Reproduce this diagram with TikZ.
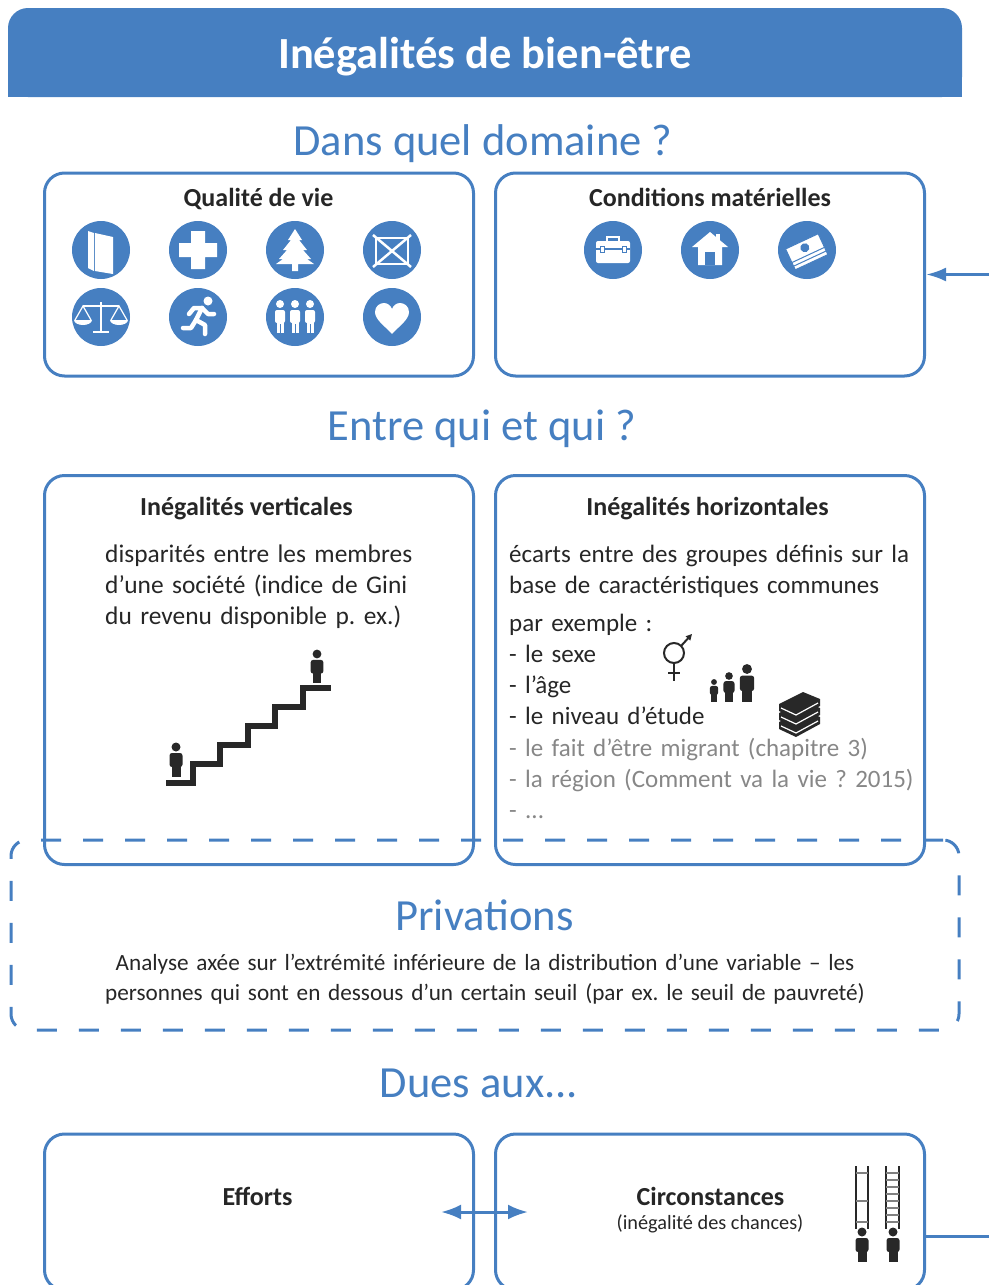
\documentclass[tikz,border=0pt]{standalone}
\usepackage{fontspec}
\setmainfont{Carlito}
\usetikzlibrary{arrows.meta,positioning}
\frenchspacing

\definecolor{mainblue}{RGB}{70,127,193}
\definecolor{textdark}{RGB}{38,38,38}
\definecolor{itemgray}{RGB}{135,135,135}
\definecolor{figdark}{RGB}{40,40,40}

% little standing person, head centre at (#1,#2), scaled by #3
\newcommand{\silhouette}[3]{%
  \begin{scope}[shift={(#1,#2)},scale=#3]
    \fill[figdark] (0,0) circle (4.5pt);
    \fill[figdark,rounded corners=2.5pt] (-6.5,6) rectangle (6.5,20);
    \fill[figdark] (-4.5,16) rectangle (4.5,30);
  \end{scope}}

\begin{document}
\begin{tikzpicture}[
    x=1pt, y=-1pt,
    every node/.style={text=textdark, inner sep=0pt},
    titlebar/.style={fill=mainblue, rounded corners=20pt, minimum width=954pt, minimum height=89pt},
    heading/.style={text=mainblue, anchor=base, font=\fontsize{44.5}{50}\selectfont},
    box/.style={draw=mainblue, line width=3pt, rounded corners=20pt, minimum width=429pt},
    dashbox/.style={draw=mainblue, line width=3pt, rounded corners=16pt, dash pattern=on 20pt off 22pt, minimum width=948pt, minimum height=190pt},
    boxtitle/.style={anchor=base, font=\bfseries\fontsize{26}{31.5}\selectfont},
    body/.style={anchor=base west, align=left, text width=#1, font=\fontsize{25.4}{31.4}\selectfont},
    icon/.style={circle, fill=mainblue, minimum size=58pt},
    link/.style={draw=mainblue, line width=3pt},
    arrow/.style={link, -{Latex[length=20pt,width=14pt]}}
  ]
  \useasboundingbox (0,0) rectangle (988,1285);

  % title
  \fill[mainblue] (8,52) rectangle (962,97);
  \node[titlebar] (title) at (485,52.5) {};
  \node[anchor=base, text=white, font=\bfseries\fontsize{44.5}{50}\selectfont] (titletext) at (485,68) {Inégalités de bien-être};

  % what
  \node[heading] (what) at (483,155) {Dans quel domaine ?};
  \node[box, minimum height=203pt] (qual) at (259,274.5) {};
  \node[box, minimum height=203pt] (cond) at (710,274.5) {};
  \node[boxtitle] at (258.5,206) {Qualité de vie};
  \node[boxtitle] at (710,206) {Conditions matérielles};

  \node[icon] (educ) at (101,250) {};
  \node[icon] (health) at (198,250) {};
  \node[icon] (envir) at (295,250) {};
  \node[icon] (balance) at (392,250) {};
  \node[icon] (civic) at (101,317) {};
  \node[icon] (secur) at (198,317) {};
  \node[icon] (social) at (295,317) {};
  \node[icon] (wellb) at (392,317) {};
  \node[icon] (jobs) at (613,250) {};
  \node[icon] (housing) at (710,250) {};
  \node[icon] (income) at (807,250) {};

  \begin{scope}[shift={(educ.center)}]
    \fill[white] (-13,-19) -- (-7,-17) -- (-7,21) -- (-13,18) -- cycle;
    \fill[white] (-6,-17) -- (12,-13) -- (12,24) -- (-6,21) -- cycle;
  \end{scope}
  \begin{scope}[shift={(health.center)}]
    \fill[white] (-7,-19) rectangle (7,19) (-19,-7) rectangle (19,7);
  \end{scope}
  \begin{scope}[shift={(envir.center)}]
    \fill[white] (0,-21) -- (-7,-10) -- (-4,-10) -- (-12,0) -- (-8,0) -- (-16,9) -- (-12,9) -- (-19,14)
      -- (-3,14) -- (-3,21) -- (3,21) -- (3,14) -- (19,14) -- (12,9) -- (16,9) -- (8,0) -- (12,0)
      -- (4,-10) -- (7,-10) -- cycle;
  \end{scope}
  \begin{scope}[shift={(balance.center)}, white, line width=2.5pt]
    \draw (-16,-12) rectangle (16,14);
    \draw (-19,-15) -- (19,17) (19,-15) -- (-19,17);
  \end{scope}
  \begin{scope}[shift={(civic.center)}, white]
    \draw[line width=2.5pt] (-18,-11) -- (18,-11) (0,-15) -- (0,14) (-8,15) -- (8,15);
    \draw[line width=1.2pt] (-26,3) -- (-18,-11) -- (-10,3) (10,3) -- (18,-11) -- (26,3);
    \fill (-27,3) -- (-9,3) arc[start angle=0, end angle=-180, x radius=9pt, y radius=5pt] -- cycle;
    \fill (9,3) -- (27,3) arc[start angle=0, end angle=-180, x radius=9pt, y radius=5pt] -- cycle;
  \end{scope}
  \begin{scope}[shift={(secur.center)}, white, line width=4.5pt, line cap=round, line join=round]
    \fill (10,-16) circle (4.5pt);
    \draw (4,-9) -- (-2,3);
    \draw (4,-9) -- (10,-3) -- (16,-3);
    \draw (4,-9) -- (-4,-9) -- (-9,-3);
    \draw (-2,3) -- (7,8) -- (7,17);
    \draw (-2,3) -- (-7,11) -- (-15,11);
  \end{scope}
  \begin{scope}[shift={(social.center)}]
    \foreach \dx in {-15,0,15} {
      \fill[white] (\dx,-13) circle (4pt);
      \fill[white, rounded corners=2pt] (\dx-5,-7) rectangle (\dx+5,6);
      \fill[white] (\dx-3.5,3) rectangle (\dx+3.5,16);
      \draw[mainblue, line width=1pt] (\dx,7) -- (\dx,16);
    }
  \end{scope}
  \begin{scope}[shift={(wellb.center)}]
    \fill[white] (0,17) .. controls (-6,10) and (-17,3) .. (-17,-5)
      .. controls (-17,-11) and (-12,-14) .. (-8,-14)
      .. controls (-4,-14) and (-1,-11) .. (0,-8)
      .. controls (1,-11) and (4,-14) .. (8,-14)
      .. controls (12,-14) and (17,-11) .. (17,-5)
      .. controls (17,3) and (6,10) .. (0,17);
  \end{scope}
  \begin{scope}[shift={(jobs.center)}]
    \draw[white, line width=2.5pt] (-6,-8) -- (-6,-13) -- (6,-13) -- (6,-8);
    \fill[white, rounded corners=2pt] (-17,-9) rectangle (17,13);
    \draw[mainblue, line width=1.5pt] (-17,-1) -- (17,-1);
    \filldraw[fill=white, draw=mainblue, line width=1pt] (-13,-4) rectangle (-9,2) (9,-4) rectangle (13,2);
  \end{scope}
  \begin{scope}[shift={(housing.center)}]
    \fill[white] (6,-16) rectangle (10,-8);
    \fill[white] (0,-18) -- (-18,-3) -- (-12,-3) -- (-12,15) -- (12,15) -- (12,-3) -- (18,-3) -- cycle;
    \fill[mainblue] (-5,2) rectangle (5,15);
  \end{scope}
  \begin{scope}[shift={(income.center)}, rotate=25]
    \foreach \k in {2,1,0}
      \filldraw[fill=white, draw=mainblue, line width=1pt] (-19,-10+4*\k) rectangle (17,5+4*\k);
    \fill[mainblue] (-1,-3) circle (4.5pt);
  \end{scope}

  % between whom
  \node[heading] (who) at (482,440) {Entre qui et qui ?};
  \node[dashbox] (privbox) at (485,935) {};
  \node[box, minimum height=389pt] (vert) at (259,670) {};
  \node[box, minimum height=389pt] (horiz) at (710,670) {};
  \node[boxtitle] at (246.5,515) {Inégalités verticales};
  \node[boxtitle] at (707.5,515) {Inégalités horizontales};

  \node[body=360pt] (verttext) at (105,562) {disparités entre les membres\\
    d’une société (indice de Gini\\du revenu disponible p. ex.)};
  \node[body=460pt, font=\fontsize{25}{31.4}\selectfont] (horiztext) at (509,562) {écarts entre des groupes définis sur la\\
    base de caractéristiques communes};
  \node[body=460pt, font=\fontsize{25}{31.3}\selectfont] (examples) at (509,631) {par exemple :\\- le sexe\\- l’âge\\- le niveau d’étude\\
    \textcolor{itemgray}{- le fait d’être migrant (chapitre 3)}\\
    \textcolor{itemgray}{- la région (Comment va la vie ? 2015)}\\
    \textcolor{itemgray}{- ...}};

  \draw[figdark, line width=6pt] (166,783) -- (193,783) -- (193,764) -- (220,764) -- (220,745)
    -- (248,745) -- (248,726) -- (275,726) -- (275,707) -- (303,707) -- (303,688) -- (331,688);
  \silhouette{176}{747}{1}
  \silhouette{317}{654}{0.98}

  \draw[figdark, line width=2pt] (674,653) circle (10pt);
  \draw[figdark, line width=2pt] (674,663) -- (674,681) (668,673) -- (680,673);
  \draw[figdark, line width=2pt, -{Triangle[length=6pt,width=6pt]}] (681,646) -- (692,634);

  \silhouette{714}{682}{0.65}
  \silhouette{729}{676}{0.85}
  \silhouette{747}{669}{1.1}

  \foreach \k in {2,1,0} {
    \fill[figdark] (779,704+9*\k) -- (803,692+9*\k) -- (820,699+9*\k) -- (820,706+9*\k)
      -- (796,719+9*\k) -- (779,711+9*\k) -- cycle;
    \draw[white, line width=1.2pt] (781,708+9*\k) -- (796,715+9*\k) -- (818,703+9*\k);
  }

  % deprivation
  \node[heading] (priv) at (484.5,930) {Privations};
  \node[anchor=base, align=center, text width=900pt, font=\fontsize{23.2}{30}\selectfont] (privtext) at (485,970)
    {Analyse axée sur l’extrémité inférieure de la distribution d’une variable – les\\
     personnes qui sont en dessous d’un certain seuil (par ex. le seuil de pauvreté)};

  % due to
  \node[heading] (due) at (479,1097) {Dues aux...};
  \node[box, minimum height=156pt] (eff) at (259,1212) {};
  \node[box, minimum height=156pt] (circ) at (710,1212) {};
  \node[boxtitle] at (257.5,1205) {Efforts};
  \node[boxtitle] at (710.5,1205) {Circonstances};
  \node[anchor=base, font=\fontsize{20.3}{24}\selectfont] at (710,1229) {(inégalité des chances)};

  \draw[figdark, line width=1.2pt] (856,1166) -- (856,1229) (868,1166) -- (868,1229);
  \foreach \y in {1173,1201,1222}
    \draw[gray, line width=1.2pt] (856,\y) -- (868,\y);
  \draw[figdark, line width=1.2pt] (886,1166) -- (886,1229) (899,1166) -- (899,1229);
  \foreach \y in {1173,1180,...,1222}
    \draw[gray, line width=1.2pt] (886,\y) -- (899,\y);
  \silhouette{862}{1232}{1}
  \silhouette{893}{1232}{1}

  \draw[link, {Latex[length=20pt,width=15pt]}-{Latex[length=20pt,width=15pt]}]
    ([xshift=-34pt]eff.east) -- ([xshift=34pt]circ.west);
  \draw[arrow] ([yshift=-24pt]circ.east) -- ++(80,0) |- (cond.east);
\end{tikzpicture}
\end{document}
